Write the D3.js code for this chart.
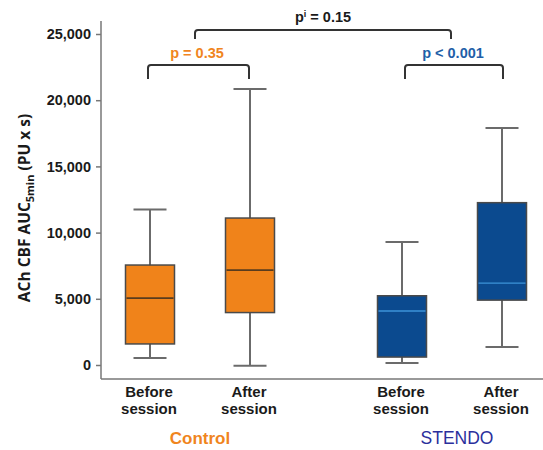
<!DOCTYPE html>
<html>
<head>
<meta charset="utf-8">
<script src="https://cdn.jsdelivr.net/npm/d3@7"></script>
<style>
  body { margin: 0; background: #fff; }
  text { font-family: "Liberation Sans", Arial, sans-serif; }
</style>
</head>
<body>
<div id="chart"></div>
<script>
// groups and sessions
const groups = ['Control', 'STENDO'];
const sessions = ['Before', 'After'];
const groupColors = { Control: '#f0831a', STENDO: '#0b4a8f' };
const medianColors = { Control: '#5a3c1e', STENDO: '#3d93d8' };
const labelColors = { Control: '#f0851e', STENDO: '#2b2f9c' };

// box stats: [min, q1, median, q3, max]
const controlStats = [
  [530, 1590, 5050, 7550, 11750],
  [-60, 3960, 7170, 11100, 20850]
];
const stendoStats = [
  [150, 600, 4080, 5230, 9290],
  [1360, 4900, 6190, 12260, 17900]
];

const yTicks = [0, 5000, 10000, 15000, 20000, 25000];

// significance labels
const withinP = [
  { group: 'Control', label: 'p = 0.35' },
  { group: 'STENDO', label: 'p < 0.001' }
];
const betweenP = 'p';
const betweenSup = 'i';
const betweenRest = ' = 0.15';

const width = 543;
const height = 450;

const svg = d3.select('#chart')
  .append('svg')
  .attr('width', width)
  .attr('height', height);

const y = d3.scaleLinear()
  .domain([0, 25000])
  .range([365, 34]);

const groupX = d3.scalePoint()
  .domain(groups)
  .range([200, 452]);

const innerX = d3.scalePoint()
  .domain(sessions)
  .range([-50, 50]);

const xPos = (g, s) => groupX(g) + innerX(s);

const boxes = [];
groups.forEach((g) => {
  const stats = g === 'Control' ? controlStats : stendoStats;
  sessions.forEach((s, i) => {
    const [min, q1, med, q3, max] = stats[i];
    boxes.push({ group: g, session: s, min, q1, med, q3, max });
  });
});

// axes
const axisColor = '#777';
const axisX = 101;
svg.append('line')
  .attr('x1', axisX).attr('x2', axisX)
  .attr('y1', 21).attr('y2', 379)
  .attr('stroke', axisColor).attr('stroke-width', 1.5);
svg.append('line')
  .attr('x1', axisX).attr('x2', width)
  .attr('y1', 379).attr('y2', 379)
  .attr('stroke', axisColor).attr('stroke-width', 1.5);

const yAxis = svg.append('g')
  .attr('transform', `translate(${axisX},0)`)
  .call(d3.axisLeft(y).tickValues(yTicks).tickSize(5).tickPadding(5).tickFormat(d3.format(',')));
yAxis.select('.domain').remove();
yAxis.selectAll('.tick line').attr('stroke', axisColor).attr('stroke-width', 1.5);
yAxis.selectAll('.tick text')
  .attr('font-size', 14.5)
  .attr('font-weight', 'bold')
  .attr('fill', '#1a1a1a')
  .style('font-family', '"Liberation Sans", Arial, sans-serif');

// y title
const title = svg.append('text')
  .attr('transform', 'translate(30,208) rotate(-90)')
  .attr('text-anchor', 'middle')
  .attr('font-size', 15.5)
  .attr('font-weight', 'bold')
  .attr('fill', '#1a1a1a')
  .style('font-family', '"Open Sans", sans-serif');
title.append('tspan').text('ACh CBF AUC');
title.append('tspan').attr('font-size', 11).attr('dy', 4).text('5min');
title.append('tspan').attr('dy', -4).text(' (PU x s)');

// boxes
const boxW = 49;
const capW = 33;
const whiskerColor = '#6b6b6b';

const bx = svg.append('g').selectAll('g')
  .data(boxes)
  .enter()
  .append('g');

bx.append('line')
  .attr('x1', (d) => xPos(d.group, d.session))
  .attr('x2', (d) => xPos(d.group, d.session))
  .attr('y1', (d) => y(d.max))
  .attr('y2', (d) => y(d.min))
  .attr('stroke', whiskerColor).attr('stroke-width', 2);

bx.selectAll('.cap')
  .data((d) => [d.min, d.max].map((v) => ({ v, d })))
  .enter()
  .append('line')
  .attr('x1', (c) => xPos(c.d.group, c.d.session) - capW / 2)
  .attr('x2', (c) => xPos(c.d.group, c.d.session) + capW / 2)
  .attr('y1', (c) => y(c.v))
  .attr('y2', (c) => y(c.v))
  .attr('stroke', whiskerColor).attr('stroke-width', 2);

bx.append('rect')
  .attr('x', (d) => xPos(d.group, d.session) - boxW / 2)
  .attr('y', (d) => y(d.q3))
  .attr('width', boxW)
  .attr('height', (d) => y(d.q1) - y(d.q3))
  .attr('fill', (d) => groupColors[d.group])
  .attr('stroke', '#4a4a4a')
  .attr('stroke-width', 1.5);

bx.append('line')
  .attr('x1', (d) => xPos(d.group, d.session) - boxW / 2 + 1)
  .attr('x2', (d) => xPos(d.group, d.session) + boxW / 2 - 1)
  .attr('y1', (d) => y(d.med))
  .attr('y2', (d) => y(d.med))
  .attr('stroke', (d) => medianColors[d.group])
  .attr('stroke-width', (d) => d.group === 'Control' ? 1.8 : 1.3);

// x labels
const xl = svg.append('g').selectAll('text')
  .data(boxes)
  .enter()
  .append('text')
  .attr('x', (d) => xPos(d.group, d.session) - 1)
  .attr('y', 397)
  .attr('text-anchor', 'middle')
  .attr('font-size', 15)
  .attr('font-weight', 'bold')
  .attr('fill', '#1a1a1a');
xl.append('tspan').text((d) => d.session);
xl.append('tspan')
  .attr('x', (d) => xPos(d.group, d.session) - 1)
  .attr('dy', 17)
  .text('session');

// group labels
svg.append('g').selectAll('text')
  .data(groups)
  .enter()
  .append('text')
  .attr('x', (g) => groupX(g) + (g === 'Control' ? 0 : 5))
  .attr('y', 444)
  .attr('text-anchor', 'middle')
  .attr('font-size', (g) => g === 'Control' ? 17 : 17.5)
  .attr('font-weight', (g) => g === 'Control' ? 'bold' : 'normal')
  .attr('fill', (g) => labelColors[g])
  .text((g) => g);

// brackets
const bracketColor = '#333';
function bracket(x1, x2, yTop, drop) {
  const r = 3;
  return `M${x1},${yTop + drop} L${x1},${yTop + r} Q${x1},${yTop} ${x1 + r},${yTop}` +
    ` L${x2 - r},${yTop} Q${x2},${yTop} ${x2},${yTop + r} L${x2},${yTop + drop}`;
}

const within = svg.append('g').selectAll('g')
  .data(withinP)
  .enter()
  .append('g');

within.append('path')
  .attr('d', (d) => bracket(xPos(d.group, 'Before') + (d.group === 'Control' ? -2 : 3), xPos(d.group, 'After') + (d.group === 'Control' ? -1 : 1), y(22650), 14))
  .attr('fill', 'none')
  .attr('stroke', bracketColor)
  .attr('stroke-width', 2);

within.append('text')
  .attr('x', (d) => groupX(d.group) + (d.group === 'Control' ? -3 : 1))
  .attr('y', y(22650) - 7)
  .attr('text-anchor', 'middle')
  .attr('font-size', 14.5)
  .attr('font-weight', 'bold')
  .attr('fill', (d) => d.group === 'Control' ? '#f0851e' : '#1f5fa8')
  .text((d) => d.label);

svg.append('path')
  .attr('d', bracket(groupX('Control') - 5, groupX('STENDO') - 1, y(25300), 9))
  .attr('fill', 'none')
  .attr('stroke', bracketColor)
  .attr('stroke-width', 2);

const bt = svg.append('text')
  .attr('x', (groupX('Control') + groupX('STENDO')) / 2 - 3)
  .attr('y', y(25300) - 8)
  .attr('text-anchor', 'middle')
  .attr('font-size', 14.5)
  .attr('font-weight', 'bold')
  .attr('fill', '#1a1a1a');
bt.append('tspan').text(betweenP);
bt.append('tspan').attr('font-size', 9).attr('dy', -5).text(betweenSup);
bt.append('tspan').attr('dy', 5).text(betweenRest);
</script>
</body>
</html>
